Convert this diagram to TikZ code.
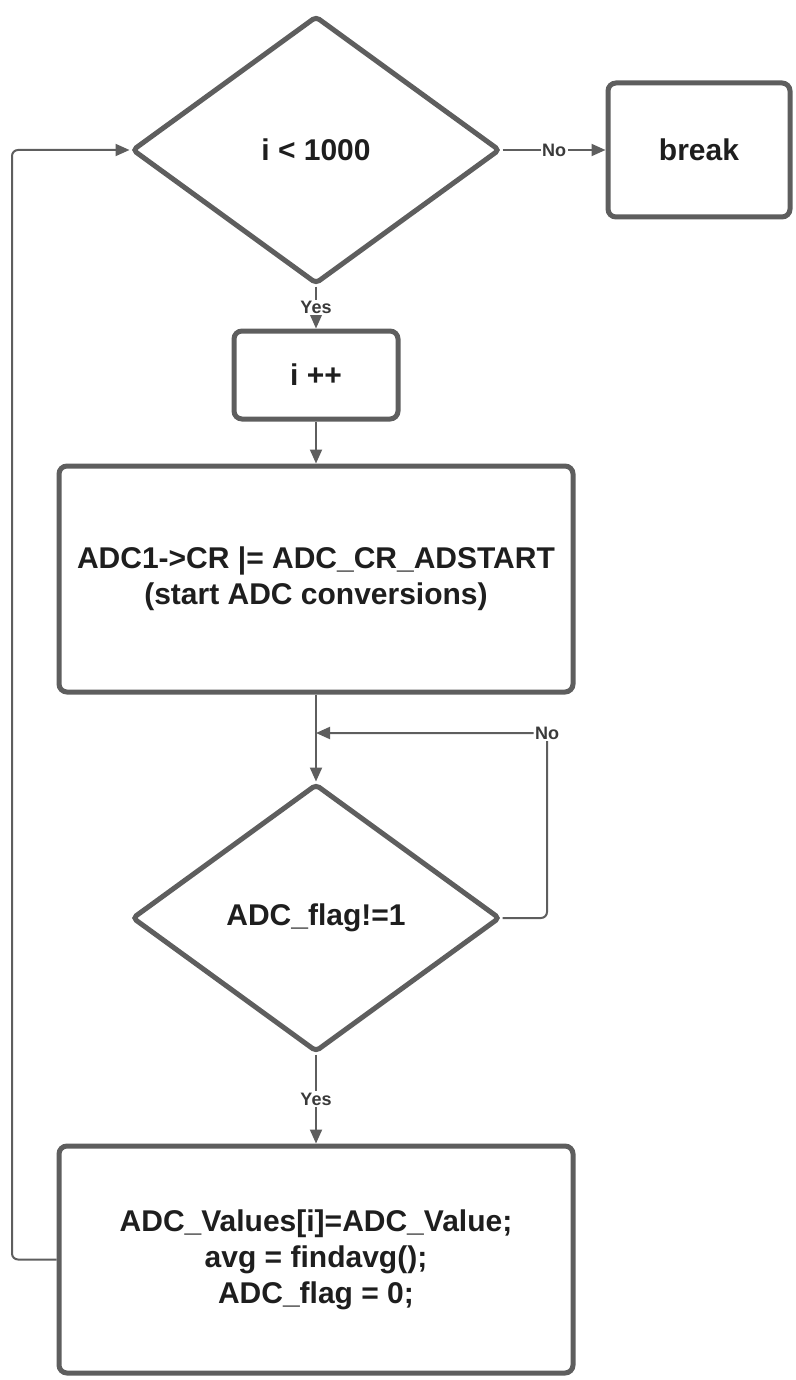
\documentclass[tikz,border=0pt]{standalone}
\usepackage{fontspec}
\setmainfont{Liberation Sans}
\usepackage{tikz}
\usetikzlibrary{arrows.meta, positioning, shapes.geometric, calc}
\definecolor{flowgray}{RGB}{94,94,94}
\definecolor{flowtext}{RGB}{30,30,30}
\definecolor{lblgray}{RGB}{58,58,58}

\begin{document}
\begin{tikzpicture}[
  x=1pt, y=-1pt,
  node distance=42pt and 103pt,
  every node/.style={font=\fontsize{30}{36}\selectfont\bfseries,text=flowtext},
  decision/.style={draw=flowgray,diamond,line width=5pt,rounded corners=4pt,
    minimum width=368pt,minimum height=268pt,inner sep=0pt,align=center},
  procbox/.style={draw=flowgray,rectangle,line width=5pt,rounded corners=8pt,
    align=center},
  arr/.style={-{Triangle[length=14pt,width=12pt]},line width=2pt,draw=flowgray},
  lb/.style={font=\fontsize{18}{21}\selectfont\bfseries,text=lblgray,
    fill=white,inner sep=1.5pt}
]
\useasboundingbox (0,0) rectangle (795,1380);

\node[decision] (cond) at (316,150) {i < 1000};
\node[procbox, right=of cond, minimum width=182pt, minimum height=134pt] (brk) {break};

\node[procbox, below=42pt of cond, minimum width=164pt, minimum height=88pt] (inc) {i ++};
\node[procbox, below=42pt of inc, minimum width=514pt, minimum height=226pt] (start)
  {ADC1->CR |= ADC\_CR\_ADSTART\\(start ADC conversions)};
\node[decision, below=87pt of start] (wait) {ADC\_flag!=1};
\node[procbox, below=89pt of wait, minimum width=514pt, minimum height=227pt] (store)
  {ADC\_Values[i]=ADC\_Value;\\avg = findavg();\\ADC\_flag = 0;};

\coordinate (nobend) at (547,733);
\coordinate (loopx) at (12,0);

% cond → break
\draw[arr] (cond.east) -- node[lb]{No} (brk.west);

% cond → i++
\draw[arr] (cond.south) -- node[lb]{Yes} (inc.north);

% i++ → start
\draw[arr] (inc.south) -- (start.north);

% start → wait
\draw[arr] (start.south) -- (wait.north);

% wait → back (No)
\draw[arr,rounded corners=6pt]
  (wait.east) -| (nobend) node[lb] (nowait) {No}
  -- (nobend -| start.south);

% wait → store
\draw[arr] (wait.south) -- node[lb]{Yes} (store.north);

% store → cond (loop)
\draw[arr,rounded corners=6pt]
  (store.west) -- (store.west -| loopx) |- (cond.west);

\end{tikzpicture}
\end{document}
